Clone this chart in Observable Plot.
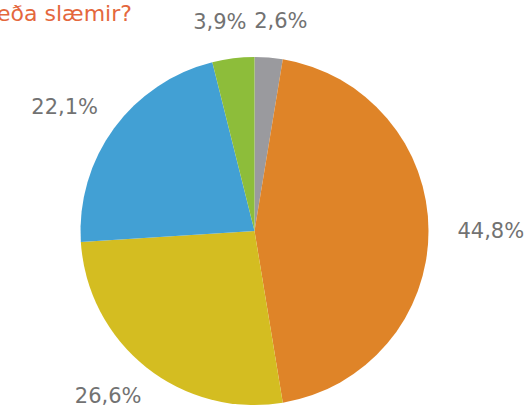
<!DOCTYPE html>
<html>
<head>
<meta charset="utf-8">
<script src="https://cdn.jsdelivr.net/npm/d3@7"></script>
<script src="https://cdn.jsdelivr.net/npm/@observablehq/plot@0.6"></script>
<style>
html, body { margin: 0; padding: 0; background: #fff; }
#wrap { position: relative; width: 532px; height: 412px; overflow: hidden; }
#title { position: absolute; left: -3px; top: 1px; font: 22px "DejaVu Sans", sans-serif; color: #e4673d; white-space: nowrap; z-index: 2; line-height: 26px; }
#chart { position: absolute; left: 0; top: 0; }
</style>
</head>
<body>
<div id="wrap">
  <div id="chart"></div>
  <div id="title">eða slæmir?</div>
</div>
<script>
// Data (clockwise from 12 o'clock)
const categories = ["Flokkur 1", "Flokkur 2", "Flokkur 3", "Flokkur 4", "Flokkur 5"];
const values = [2.6, 44.8, 26.6, 22.1, 3.9];
const sliceColors = ["#9a9a9e", "#df8428", "#d4bd21", "#42a0d4", "#8dbd3a"];

const fmt = v => v.toFixed(1).replace(".", ",") + "%";
const data = categories.map((c, i) => ({category: c, value: values[i], label: fmt(values[i])}));

const arcs = d3.pie().sort(null).value(d => d.value)(data);

const color = Plot.scale({color: {type: "ordinal", domain: categories, range: sliceColors}});

const FS = 21;
const R_PX = 174;
const K = 1.165;
const GAP = 8 / R_PX;
const labelPos = arcs.map(a => {
  const mid = (a.startAngle + a.endAngle) / 2;
  const s = Math.sin(mid), c = Math.cos(mid);
  const hw = (a.data.label.length * 0.63 * FS / 2) / R_PX;
  const hh = 8 / R_PX;
  return {label: a.data.label, hw, hh, x: K * s + hw * s, y: K * c + hh * c};
});
// simple collision resolution: push overlapping labels apart horizontally
for (let iter = 0; iter < 10; iter++) {
  for (let i = 0; i < labelPos.length; i++) {
    for (let j = i + 1; j < labelPos.length; j++) {
      const a = labelPos[i], b = labelPos[j];
      if (Math.abs(a.y - b.y) >= a.hh + b.hh) continue;
      const need = a.hw + b.hw + GAP;
      const d = Math.abs(a.x - b.x);
      if (d < need) {
        const push = (need - d) / 2;
        if (a.x < b.x) { a.x -= push; b.x += push; } else { a.x += push; b.x -= push; }
      }
    }
  }
}

const pieMark = (index, scales, values, dimensions, context) => {
  const cx = scales.x(0), cy = scales.y(0);
  const r = scales.x(1) - scales.x(0);
  const arc = d3.arc().innerRadius(0).outerRadius(r);
  const g = d3.create("svg:g").attr("transform", `translate(${cx},${cy})`);
  g.selectAll("path")
    .data(arcs)
    .join("path")
    .attr("d", arc)
    .attr("fill", d => color.apply(d.data.category));
  return g.node();
};

const plot = Plot.plot({
  width: 532,
  height: 412,
  margin: 0,
  x: {domain: [-1, 1], range: [80.5, 428.5], axis: null},
  y: {domain: [-1, 1], range: [405, 57], axis: null},
  style: {background: "#fff", overflow: "visible"},
  marks: [
    pieMark,
    Plot.text(labelPos, {
      x: "x",
      y: "y",
      text: "label",
      fontSize: FS,
      fontFamily: "DejaVu Sans",
      fill: "#727272"
    })
  ]
});
document.getElementById("chart").appendChild(plot);
</script>
</body>
</html>
